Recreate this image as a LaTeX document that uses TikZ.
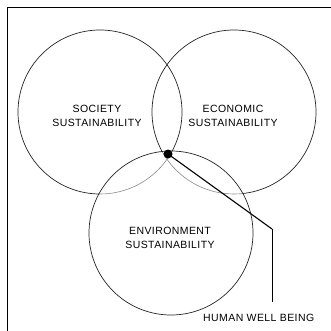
\documentclass[tikz,border=0pt]{standalone}
\usepackage{fontspec}
\setmainfont{Liberation Sans}[LetterSpace=4]
\begin{document}
\begin{tikzpicture}[x=1pt,y=-1pt,
  ring/.style={draw=black!85,line width=0.7pt},
  faint/.style={draw=black!45,line width=0.6pt},
  lbl/.style={font=\fontsize{10.5}{14.5}\selectfont,align=center,inner sep=0pt},
  hub/.style={circle,fill=black,inner sep=0pt,minimum size=9pt}]
\useasboundingbox (0,0) rectangle (331,331);
\fill[white] (0,0) rectangle (331,331);
\draw[line width=0.8pt] (7,340) -- (7,7) -- (340,7);
\coordinate (env) at (171,233);
\coordinate (soc) at (100,112);
\coordinate (eco) at (234,112);
\begin{scope}
  \clip (0,0) rectangle (331,331) (env) circle (82);
  \draw[ring] (soc) circle (82);
  \draw[ring] (eco) circle (82);
\end{scope}
\begin{scope}
  \clip (env) circle (82);
  \draw[faint] (soc) circle (82);
  \draw[faint] (eco) circle (82);
\end{scope}
\draw[ring] (env) circle (82);
\node[lbl] (socl) at (97,116) {SOCIETY\\SUSTAINABILITY};
\node[lbl] (ecol) at (233,116) {ECONOMIC\\SUSTAINABILITY};
\node[lbl] (envl) at (170,238) {ENVIRONMENT\\SUSTAINABILITY};
\node[hub] (dot) at (168,154) {};
\coordinate (bend) at (272,229);
\coordinate (foot) at (272,302);
\node[lbl,anchor=west] (hwb) at (203,318) {HUMAN WELL BEING};
\draw[line width=1.1pt] (dot.center) -- (bend);
\draw[line width=0.7pt] (bend) -- (foot);
\end{tikzpicture}
\end{document}
